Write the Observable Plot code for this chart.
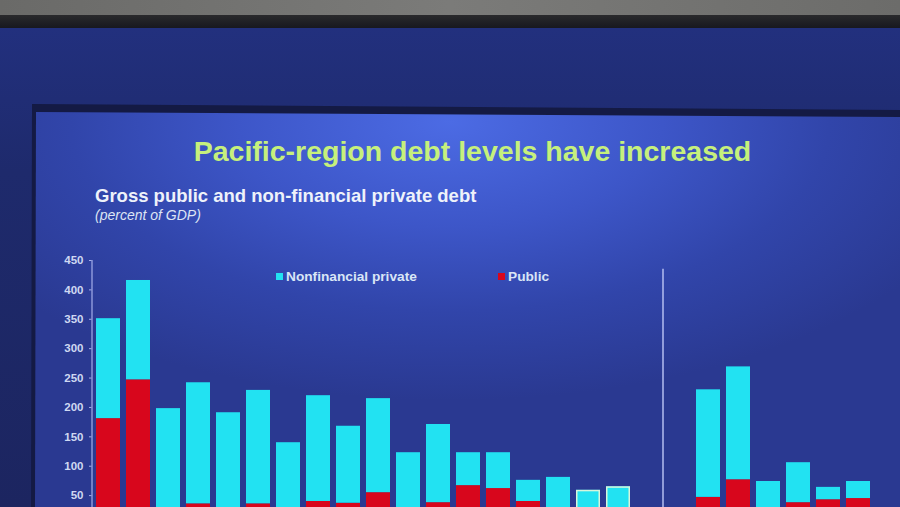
<!DOCTYPE html>
<html><head><meta charset="utf-8">
<script src="https://cdn.jsdelivr.net/npm/d3@7"></script>
<script src="https://cdn.jsdelivr.net/npm/@observablehq/plot@0.6"></script>
<style>
html,body{margin:0;padding:0;width:900px;height:507px;overflow:hidden;background:#1f2c6e;font-family:"Liberation Sans",Arial,sans-serif;}
.abs{position:absolute;}
#top{left:0;top:0;width:900px;height:15px;background:linear-gradient(90deg,#6a6a68,#7b7b79 50%,#6c6c6a);}
#band{left:0;top:15px;width:900px;height:13px;background:linear-gradient(180deg,#2a2a2c,#17181f);}
#outer{left:0;top:28px;width:900px;height:479px;background:linear-gradient(180deg,#22307e,#1e2a6c 30%,#1c2560);}
#rim{left:0;top:0;width:900px;height:507px;clip-path:polygon(32px 104px,900px 110px,900px 507px,31px 507px);background:#141a44;}
#slide{left:0;top:0;width:900px;height:507px;clip-path:polygon(36px 112px,900px 117px,900px 507px,35px 507px);background:radial-gradient(ellipse 62% 55% at 50% 24%,#4c6be4 0%,#3d56c8 38%,#3145aa 68%,#2a3991 100%);}
#title{left:0;width:900px;top:135px;text-align:center;padding-left:45px;box-sizing:border-box;font-weight:bold;font-size:28.5px;color:#c6f07c;white-space:nowrap;}
#sub{left:95px;top:185px;font-weight:bold;font-size:18.5px;color:#eef2fa;white-space:nowrap;}
#unit{left:95px;top:207px;font-style:italic;font-size:14px;color:#dde4f4;white-space:nowrap;}
.leg{top:268.5px;font-weight:bold;font-size:13.7px;color:#d9e6f6;white-space:nowrap;}
.sw{display:inline-block;width:7px;height:7px;margin-right:3px;vertical-align:1px;}
#chart{left:0;top:0;}
</style></head>
<body>
<div id="top" class="abs"></div>
<div id="band" class="abs"></div>
<div id="outer" class="abs"></div>
<div id="rim" class="abs"></div>
<div id="slide" class="abs"></div>
<div id="title" class="abs">Pacific-region debt levels have increased</div>
<div id="sub" class="abs">Gross public and non-financial private debt</div>
<div id="unit" class="abs">(percent of GDP)</div>
<div id="chart" class="abs"></div>
<div class="abs leg" style="left:276px"><span class="sw" style="background:#22e2f2"></span>Nonfinancial private</div>
<div class="abs leg" style="left:498px"><span class="sw" style="background:#d8061c"></span>Public</div>
<script>
// Categories (country labels are cut off in the reference; placeholders used), with two empty slots between the groups
const categories = ["c01","c02","c03","c04","c05","c06","c07","c08","c09","c10","c11","c12","c13","c14","c15","c16","c17","c18","gap1","gap2","c19","c20","c21","c22","c23","c24"];
const barCategories = ["c01","c02","c03","c04","c05","c06","c07","c08","c09","c10","c11","c12","c13","c14","c15","c16","c17","c18","c19","c20","c21","c22","c23","c24"];
// Gross public debt (percent of GDP)
const publicDebt = [181, 247, 20, 36, 20, 36, 28, 40, 37, 55, 25, 38, 67, 62, 40, 28, 20, 20, 47, 77, 22, 38, 43, 45];
// Non-financial private debt (percent of GDP)
const privateDebt = [170, 169, 178, 206, 171, 193, 112, 180, 131, 160, 98, 133, 56, 61, 36, 53, 39, 45, 183, 192, 52, 68, 21, 29];
const outlined = ["c17","c18"];
const yTicks = [50, 100, 150, 200, 250, 300, 350, 400, 450];
const series = ["Public", "Nonfinancial private"];
const seriesColors = ["#d8061c", "#22e2f2"];

const rows = [];
barCategories.forEach((c, i) => {
  rows.push({cat: c, series: "Public", value: publicDebt[i]});
  rows.push({cat: c, series: "Nonfinancial private", value: privateDebt[i]});
});
const totals = barCategories.map((c, i) => ({cat: c, total: publicDebt[i] + privateDebt[i]}));

const chart = Plot.plot({
  width: 900,
  height: 560,
  marginTop: 260,
  marginBottom: 35.5,
  marginLeft: 91.5,
  marginRight: 26,
  style: {background: "transparent", color: "#c9d3f0", fontFamily: "Liberation Sans, Arial, sans-serif"},
  x: {domain: categories, paddingInner: 0.2, paddingOuter: 0.07, axis: null},
  y: {domain: [0, 450], axis: null},
  color: {domain: series, range: seriesColors},
  marks: [
    Plot.barY(rows, {x: "cat", y: "value", fill: "series", order: series}),
    Plot.barY(totals.filter(d => outlined.includes(d.cat)), {x: "cat", y: "total", fill: "none", stroke: "#d6f6dc", strokeWidth: 1.5, inset: 0.75}),
    Plot.frame({anchor: "left", stroke: "#a4aeea", strokeWidth: 1.2}),
    Plot.axisY({ticks: yTicks, tickSize: 2.5, tickPadding: 6, fontSize: 11.5, fontWeight: "bold", fill: "#cfd8f2", stroke: "#a4aeea", label: null})
  ]
});
document.getElementById("chart").appendChild(chart);

// divider between the two groups, placed from the band scale
const sx = chart.scale("x");
const sy = chart.scale("y");
const xd = sx.apply("gap2") - (sx.step - sx.bandwidth) / 2;
d3.select(chart).append("line")
  .attr("x1", xd).attr("x2", xd)
  .attr("y1", sy.apply(435)).attr("y2", sy.apply(0))
  .attr("stroke", "#b4bef0").attr("stroke-width", 1.5);
</script>
</body></html>
